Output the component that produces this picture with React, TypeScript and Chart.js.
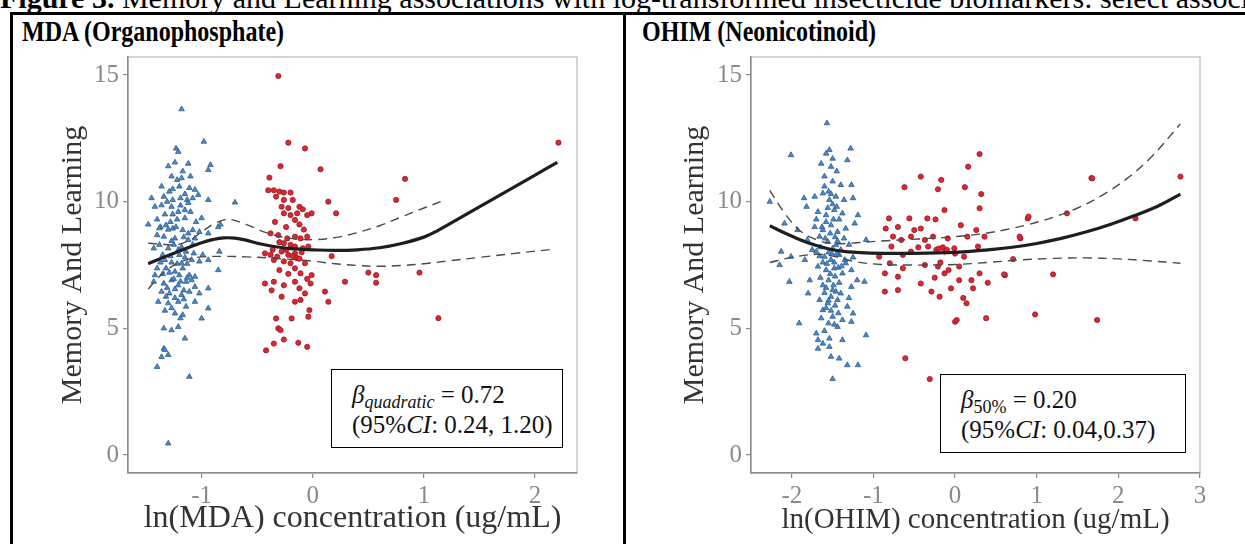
import React, { useEffect, useRef } from "react";
import { Chart, registerables } from "chart.js";
Chart.register(...registerables);

const FONT = "'Liberation Serif', 'Times New Roman', serif";

// ---------- Panel 1: MDA ----------
const mdaXTicks = [-1, 0, 1, 2];
const mdaYTicks = [0, 5, 10, 15];
const mdaLow: number[][] = [
  [-1.18,13.65],[-0.98,12.37],[-1.21,11.97],[-1.12,11.5],[-0.92,11.45],[-0.94,11.25],[-1.27,11.0],[-1.22,10.86],
  [-1.18,10.93],[-1.11,10.54],[-1.06,10.47],[-1.03,10.27],[-1.45,10.14],[-1.34,10.2],[-1.26,10.07],[-1.19,10.14],
  [-1.13,10.07],[-1.08,10.14],[-0.94,10.07],[-0.70,9.97],[-1.42,9.8],[-1.36,9.86],[-1.27,9.8],[-1.21,9.6],
  [-1.15,9.67],[-1.48,9.1],[-1.37,9.0],[-1.32,9.07],[-1.26,8.94],[-1.17,8.88],[-1.08,8.88],[-1.02,8.81],
  [-0.94,8.75],[-0.85,9.0],[-0.83,9.1],[-1.40,8.68],[-1.34,8.62],[-1.24,8.55],[-1.12,8.49],[-1.06,8.55],
  [-1.43,8.16],[-1.30,8.16],[-1.21,8.1],[-1.14,8.03],[-1.07,7.96],[-0.99,7.9],[-0.84,8.03],[-1.37,7.6],
  [-1.27,7.6],[-1.18,7.57],[-1.09,7.7],[-1.02,7.64],[-0.94,7.7],[-0.85,7.3],[-1.40,7.37],[-1.32,7.37],
  [-1.24,7.24],[-1.17,7.37],[-1.11,7.1],[-1.06,7.04],[-1.43,6.84],[-1.34,6.77],[-1.27,6.9],[-1.21,6.7],
  [-1.14,6.84],[-1.06,6.64],[-1.36,6.45],[-1.29,6.38],[-1.18,6.32],[-1.11,6.45],[-1.02,6.38],[-0.94,6.58],
  [-1.39,6.05],[-1.30,5.99],[-1.21,6.05],[-1.14,5.86],[-1.06,6.05],[-0.94,5.79],[-1.24,5.59],[-1.17,5.53],
  [-1.00,5.39],[-1.34,5.0],[-1.27,4.93],[-1.21,5.06],[-1.15,4.6],[-1.34,4.2],[-1.36,3.87],[-1.40,3.48],
  [-1.33,4.15],[-1.30,3.95],[-1.11,3.09],[-1.30,0.46],
  [-1.40,9.3],[-1.33,9.5],[-1.28,9.2],[-1.22,9.3],[-1.15,9.35],[-1.10,9.6],[-1.05,9.2],[-1.38,8.3],
  [-1.30,8.9],[-1.25,8.3],[-1.18,8.2],[-1.12,8.75],[-1.08,8.3],[-1.35,7.9],[-1.28,7.85],[-1.20,7.9],
  [-1.15,7.8],[-1.42,7.1],[-1.35,7.15],[-1.25,6.95],[-1.20,7.1],[-1.13,7.0],[-1.31,6.6],[-1.24,6.55],
  [-1.16,6.5],[-1.09,6.9],[-1.33,5.7],[-1.27,5.8],[-1.19,5.4],[-1.26,10.5],[-1.20,10.6],[-1.15,10.3],
  [-1.30,11.4],[-1.24,11.55],[-1.17,11.2],[-1.23,12.1],[-1.29,10.4],[-1.36,10.6],[-1.10,11.0],[-1.00,9.35],
  [-1.38,8.95],[-1.23,9.0],[-1.16,8.6],[-1.27,8.45],[-1.33,7.7],[-1.22,7.55],[-1.13,7.55],[-1.29,7.2],
  [-1.19,6.85],[-1.24,6.2],[-1.32,6.25],[-1.16,6.15],[-1.26,9.5],[-1.19,9.85],[-1.31,10.0],[-1.12,9.95]
];
const mdaHigh: number[][] = [
  [-0.31,14.96],[2.21,12.33],[-0.22,12.33],[-0.07,12.1],[0.07,11.28],[0.83,10.9],[0.75,10.07],[-0.29,11.4],
  [-0.39,10.95],[0.14,10.0],[0.21,9.54],[0.17,7.85],[0.29,6.84],[0.50,7.2],[0.57,7.1],[0.57,6.8],
  [0.96,7.2],[1.13,5.4],
  [-0.40,10.45],[-0.35,10.45],[-0.30,10.4],[-0.26,10.36],[-0.20,10.36],[-0.33,10.2],[-0.26,10.07],[-0.18,10.07],
  [-0.12,9.8],[-0.28,9.8],[-0.22,9.75],[-0.09,9.7],[-0.26,9.54],[-0.20,9.47],[-0.14,9.54],[-0.05,9.47],
  [-0.01,9.54],[-0.16,9.28],[-0.12,9.1],[-0.38,8.75],[-0.31,8.68],[-0.23,8.55],[-0.16,8.62],[-0.11,8.55],
  [-0.05,8.62],[-0.26,8.36],[-0.20,8.3],[-0.16,8.23],[-0.09,8.16],[-0.04,8.23],[-0.43,7.96],[-0.38,7.9],
  [-0.32,7.83],[-0.28,8.03],[-0.22,7.9],[-0.16,7.96],[-0.35,7.7],[-0.26,7.64],[-0.20,7.57],[-0.14,7.77],
  [-0.07,7.57],[-0.30,7.3],[-0.16,7.37],[-0.11,7.17],[-0.01,7.1],[-0.43,6.77],[-0.35,6.84],[-0.26,6.7],
  [-0.16,6.84],[-0.12,6.58],[-0.02,6.77],[-0.07,6.38],[-0.28,6.25],[-0.16,6.05],[-0.11,6.12],[0.11,6.45],
  [0.14,6.05],[-0.03,5.72],[-0.04,5.46],[-0.33,5.39],[-0.19,5.39],[-0.31,5.0],[-0.29,4.93],[-0.26,4.56],
  [-0.35,4.4],[-0.42,4.13],[-0.13,4.43],[-0.05,4.27],[-0.24,8.1],[-0.18,7.85],[-0.3,8.4],[-0.1,8.0],
  [-0.34,9.2],[-0.24,9.0],[-0.08,8.9],[-0.36,8.1],[-0.12,7.75],[-0.22,7.15],[-0.05,6.95],[-0.37,6.5]
];
const mdaFitX = [-1.48,-1.4,-1.3,-1.2,-1.1,-1.0,-0.9,-0.8,-0.7,-0.6,-0.5,-0.4,-0.3,-0.2,-0.1,0,0.2,0.4,0.6,0.8,1.0,1.12,1.4,1.7,2.0,2.2];
const mdaFitY = [7.55,7.7,7.88,8.05,8.22,8.38,8.5,8.57,8.56,8.48,8.36,8.27,8.2,8.15,8.12,8.1,8.08,8.1,8.18,8.35,8.6,8.85,9.55,10.3,11.05,11.55];
const mdaUpX = [-1.48,-1.35,-1.22,-1.1,-1.0,-0.9,-0.8,-0.74,-0.6,-0.4,-0.2,0,0.2,0.4,0.6,0.8,1.0,1.15];
const mdaUpY = [8.36,8.32,8.3,8.5,8.8,9.1,9.28,9.3,9.1,8.75,8.55,8.5,8.58,8.78,9.05,9.4,9.75,10.0];
const mdaLoX = [-1.48,-1.4,-1.3,-1.2,-1.1,-1.0,-0.8,-0.6,-0.4,-0.2,0,0.2,0.4,0.6,0.8,1.0,1.2,1.5,1.8,2.16];
const mdaLoY = [6.55,6.95,7.35,7.6,7.75,7.82,7.84,7.82,7.78,7.72,7.65,7.55,7.48,7.45,7.48,7.55,7.65,7.8,7.95,8.12];

// ---------- Panel 2: OHIM ----------
const ohimXTicks = [-2, -1, 0, 1, 2, 3];
const ohimYTicks = [0, 5, 10, 15];
const ohimLow: number[][] = [
  [-1.57,13.1],[-2.01,11.84],[-1.54,12.04],[-1.28,12.1],[-1.64,11.5],[-1.52,11.38],[-1.32,11.64],[-1.60,11.0],
  [-1.50,10.8],[-1.40,10.66],[-1.27,10.66],[-1.85,10.14],[-1.72,10.2],[-1.62,10.33],[-1.54,10.07],[-1.46,10.2],
  [-1.36,10.07],[-1.25,10.14],[-2.27,10.0],[-2.09,9.14],[-1.82,9.8],[-1.68,9.6],[-1.58,9.47],[-1.48,9.67],
  [-1.38,9.54],[-1.19,9.47],[-1.72,9.0],[-1.62,8.88],[-1.52,9.07],[-1.44,8.81],[-1.34,8.94],[-1.23,9.14],
  [-1.93,8.88],[-1.81,8.49],[-1.66,8.62],[-1.56,8.42],[-1.46,8.29],[-1.36,8.55],[-1.09,8.49],[-2.13,8.03],
  [-2.01,7.83],[-1.70,8.03],[-1.60,7.83],[-1.52,7.7],[-1.42,7.9],[-1.34,7.57],[-1.84,7.7],[-2.15,7.5],
  [-1.68,7.44],[-1.58,7.3],[-1.48,7.37],[-1.38,7.17],[-1.27,7.3],[-2.03,6.84],[-1.78,6.9],[-1.62,6.7],
  [-1.50,6.51],[-1.40,6.38],[-1.27,6.64],[-1.11,6.84],[-1.80,6.38],[-1.66,6.12],[-1.56,5.99],[-1.44,6.12],
  [-1.32,5.86],[-1.62,5.72],[-1.50,5.46],[-1.38,5.33],[-1.25,5.59],[-1.91,5.2],[-1.44,5.06],[-1.27,5.26],
  [-1.09,4.73],[-1.70,4.8],[-1.68,4.54],[-1.54,4.6],[-1.38,4.54],[-1.68,4.2],[-1.54,4.27],[-1.52,3.88],
  [-1.42,3.81],[-1.32,3.55],[-1.19,3.55],[-1.50,3.0],
  [-1.60,10.6],[-1.55,10.4],[-1.50,9.9],[-1.45,9.8],[-1.58,9.2],[-1.53,8.75],[-1.47,8.6],[-1.42,9.3],
  [-1.65,8.2],[-1.55,8.0],[-1.50,8.15],[-1.45,7.95],[-1.40,8.1],[-1.62,7.6],[-1.57,7.55],[-1.48,7.6],
  [-1.43,7.4],[-1.35,7.7],[-1.65,7.0],[-1.55,6.9],[-1.47,7.05],[-1.42,6.8],[-1.60,6.4],[-1.52,6.25],
  [-1.46,6.45],[-1.58,5.8],[-1.52,5.7],[-1.47,5.9],[-1.55,5.2],[-1.60,4.9],[-1.50,11.7],[-1.58,11.9],
  [-1.45,11.2],[-1.70,9.3],[-1.75,8.1],[-1.30,8.3],[-1.25,7.8],[-1.20,6.9],[-1.30,6.2],[-1.62,4.4],
  [-1.56,9.75],[-1.49,9.3],[-1.63,9.0],[-1.44,8.45],[-1.59,8.55],[-1.51,7.95],[-1.66,7.85],[-1.39,7.45],
  [-1.53,7.15],[-1.58,6.6],[-1.49,6.7],[-1.55,6.1],[-1.43,5.6],[-1.48,5.15],[-1.64,5.4],[-1.52,10.3]
];
const ohimHigh: number[][] = [
  [0.30,11.88],[0.16,11.38],[-0.42,10.99],[-0.17,10.86],[1.67,10.93],[-0.62,10.57],[-0.21,10.49],[0.12,10.57],
  [0.32,10.3],[-0.13,9.67],[0.30,9.74],[-0.81,9.34],[-0.56,9.34],[-0.34,9.34],[-0.24,9.3],[0.89,9.34],
  [1.37,9.54],[1.68,10.92],[2.76,10.99],[2.21,9.34],[0.90,9.41],[0.80,8.55],[0.71,7.73],[1.20,7.13],
  [0.61,7.1],[0.98,5.55],[1.74,5.33],[0.38,5.4],[0.00,5.26],[0.02,5.33],[-0.61,3.82],[-0.31,3.0],
  [-0.85,8.94],[-0.70,9.0],[-0.50,8.88],[-0.42,8.94],[-0.76,8.62],[-0.66,8.49],[-0.54,8.62],[-0.37,8.49],
  [-0.27,8.62],[-0.09,8.55],[0.07,9.07],[0.26,8.88],[0.15,8.62],[0.36,8.62],[0.79,8.62],[-0.78,8.23],
  [-0.64,7.9],[-0.54,8.03],[-0.33,8.23],[-0.23,8.1],[-0.13,8.03],[-0.01,8.16],[0.11,7.83],[0.28,8.23],
  [-0.93,7.83],[-0.80,7.57],[-0.64,7.37],[-0.37,7.5],[-0.21,7.44],[-0.13,7.17],[0.05,7.44],[0.20,6.9],
  [0.30,7.17],[0.40,6.8],[0.60,7.13],[-0.86,7.17],[-0.70,7.04],[-0.86,6.45],[-0.70,6.51],[-0.42,6.77],
  [-0.29,6.45],[-0.19,6.25],[-0.05,6.58],[0.22,6.58],[0.14,5.99],[-0.20,8.15],[-0.15,8.2],[-0.10,8.1],
  [0.00,7.95],[-0.18,7.6],[-0.08,7.3],[0.05,6.9],[-0.45,8.2],[-0.25,7.0],[0.10,6.2]
];
const ohimFitX = [-2.27,-2.1,-1.9,-1.7,-1.5,-1.3,-1.1,-0.8,-0.5,-0.2,0.1,0.4,0.7,1.0,1.3,1.6,1.9,2.2,2.5,2.76];
const ohimFitY = [9.05,8.78,8.5,8.27,8.1,8.02,7.98,7.96,7.96,7.98,8.02,8.1,8.2,8.35,8.55,8.8,9.1,9.45,9.85,10.3];
const ohimUpX = [-2.27,-2.1,-1.9,-1.7,-1.5,-1.2,-0.9,-0.6,-0.3,0,0.3,0.6,0.9,1.2,1.5,1.8,2.1,2.4,2.76];
const ohimUpY = [10.45,9.6,8.85,8.5,8.35,8.38,8.45,8.5,8.55,8.62,8.72,8.88,9.1,9.38,9.75,10.25,10.9,11.75,13.07];
const ohimLoX = [-2.27,-2.0,-1.7,-1.5,-1.2,-0.9,-0.6,-0.3,0,0.4,0.8,1.2,1.6,2.0,2.4,2.76];
const ohimLoY = [7.6,7.8,7.92,7.85,7.62,7.52,7.5,7.5,7.52,7.6,7.7,7.76,7.78,7.74,7.66,7.57];

const zipXY = (xs: number[], ys: number[]) => xs.map((x, i) => ({ x, y: ys[i] }));
const pts = (arr: number[][]) => arr.map(([x, y]) => ({ x, y }));

const framePlugin = {
  id: "frame",
  beforeDraw(chart: any) {
    const { ctx, chartArea: a } = chart;
    ctx.save();
    ctx.fillStyle = "#ffffff";
    ctx.fillRect(a.left, a.top, a.right - a.left, a.bottom - a.top);
    ctx.strokeStyle = "#c8c8c8";
    ctx.lineWidth = 1.5;
    ctx.strokeRect(a.left, a.top, a.right - a.left, a.bottom - a.top);
    ctx.restore();
  },
};

type PanelProps = {
  low: number[][]; high: number[][];
  fitX: number[]; fitY: number[]; upX: number[]; upY: number[]; loX: number[]; loY: number[];
  xMin: number; xMax: number; xTicks: number[]; yTicks: number[];
  xTitle: string; xTitleSize: number; yAxisWidth: number; rightPad: number;
  style: React.CSSProperties;
};

function Panel(p: PanelProps) {
  const ref = useRef<HTMLCanvasElement | null>(null);
  useEffect(() => {
    if (!ref.current) return;
    const tickFont = { family: FONT, size: 25 };
    const chart = new Chart(ref.current, {
      type: "scatter",
      data: {
        datasets: [
          { data: zipXY(p.fitX, p.fitY), showLine: true, borderColor: "#1e1e1e", borderWidth: 3.2, pointRadius: 0, tension: 0.4, order: 0 } as any,
          { data: zipXY(p.upX, p.upY), showLine: true, borderColor: "#4a4a4a", borderWidth: 1.4, borderDash: [9, 6], pointRadius: 0, tension: 0.4, order: 0 } as any,
          { data: zipXY(p.loX, p.loY), showLine: true, borderColor: "#4a4a4a", borderWidth: 1.4, borderDash: [9, 6], pointRadius: 0, tension: 0.4, order: 0 } as any,
          { data: pts(p.low), pointStyle: "triangle", pointRadius: 3.2, backgroundColor: "#4a8ad0", borderColor: "#2d5a8a", borderWidth: 0.8, order: 1 },
          { data: pts(p.high), pointStyle: "circle", pointRadius: 2.6, backgroundColor: "#e0262f", borderColor: "#8e1a26", borderWidth: 0.8, order: 1 },
        ],
      },
      options: {
        responsive: false,
        animation: false,
        devicePixelRatio: 1,
        layout: { padding: { left: 0, top: 7, right: p.rightPad, bottom: 0 } },
        plugins: { legend: { display: false }, tooltip: { enabled: false } },
        scales: {
          x: {
            type: "linear", min: p.xMin, max: p.xMax,
            afterBuildTicks: (s: any) => { s.ticks = p.xTicks.map((v) => ({ value: v })); },
            afterFit: (s: any) => { s.height = 71; s.paddingLeft = 0; s.paddingRight = 0; },
            grid: { display: true, drawOnChartArea: false, drawTicks: true, tickLength: 5, color: "#8c8c8c", lineWidth: 1.2 },
            border: { display: true, color: "#8c8c8c", width: 1.5 },
            ticks: { color: "#8a8a8a", font: tickFont, padding: 3, callback: (v: any) => String(v) },
            title: { display: true, text: p.xTitle, color: "#333", font: { family: FONT, size: p.xTitleSize }, padding: { top: 0, bottom: 6 } },
          },
          y: {
            type: "linear", min: -0.71, max: 15.71,
            afterBuildTicks: (s: any) => { s.ticks = p.yTicks.map((v) => ({ value: v })); },
            afterFit: (s: any) => { s.width = p.yAxisWidth; s.paddingTop = 0; s.paddingBottom = 0; },
            grid: { display: true, drawOnChartArea: false, drawTicks: true, tickLength: 5, color: "#8c8c8c", lineWidth: 1.2 },
            border: { display: true, color: "#8c8c8c", width: 1.5 },
            ticks: { color: "#8a8a8a", font: tickFont, padding: 4, callback: (v: any) => String(v) },
            title: { display: true, text: "Memory And Learning", color: "#333", font: { family: FONT, size: 30 }, padding: { top: 41, bottom: 0 } },
          },
        },
      },
      plugins: [framePlugin],
    } as any);
    return () => chart.destroy();
  }, []);
  return <canvas ref={ref} width={600} height={494} style={{ position: "absolute", ...p.style }} />;
}

const boxStyle: React.CSSProperties = {
  position: "absolute", border: "1.5px solid #000", background: "#fff", boxSizing: "border-box",
  fontFamily: FONT, fontSize: 25, lineHeight: "30px", color: "#111", whiteSpace: "nowrap",
};
const subStyle: React.CSSProperties = { fontSize: 18, verticalAlign: "-5px", lineHeight: 0 };
const panelTitle: React.CSSProperties = {
  position: "absolute", top: 16, fontFamily: FONT, fontWeight: "bold", fontSize: 24, lineHeight: "24px",
  whiteSpace: "nowrap", transform: "scaleY(1.25)", transformOrigin: "0 0", color: "#000",
};

export default function App() {
  return (
    <div style={{ position: "fixed", left: 0, top: 0, width: 1245, height: 544, overflow: "hidden", background: "#fff" }}>
      <div style={{ position: "absolute", left: 0, top: -17, fontFamily: FONT, fontSize: 30, lineHeight: "30px", whiteSpace: "nowrap", color: "#000" }}>
        <b>Figure 3.</b> Memory and Learning associations with log-transformed insecticide biomarkers: select associations
      </div>
      <div style={{ position: "absolute", left: 10, top: 12, width: 1235, height: 3, background: "#000" }} />
      <div style={{ position: "absolute", left: 10, top: 12, width: 3, height: 532, background: "#000" }} />
      <div style={{ position: "absolute", left: 623, top: 12, width: 2.5, height: 532, background: "#000" }} />
      <div style={{ ...panelTitle, left: 22 }}>MDA (Organophosphate)</div>
      <div style={{ ...panelTitle, left: 642 }}>OHIM (Neonicotinoid)</div>
      <Panel low={mdaLow} high={mdaHigh} fitX={mdaFitX} fitY={mdaFitY} upX={mdaUpX} upY={mdaUpY} loX={mdaLoX} loY={mdaLoY}
        xMin={-1.662} xMax={2.377} xTicks={mdaXTicks} yTicks={mdaYTicks} xTitle="ln(MDA) concentration (ug/mL)" xTitleSize={32}
        yAxisWidth={114} rightPad={37} style={{ left: 14, top: 50 }} />
      <Panel low={ohimLow} high={ohimHigh} fitX={ohimFitX} fitY={ohimFitY} upX={ohimUpX} upY={ohimUpY} loX={ohimLoX} loY={ohimLoY}
        xMin={-2.5} xMax={3.0} xTicks={ohimXTicks} yTicks={ohimYTicks} xTitle="ln(OHIM) concentration (ug/mL)" xTitleSize={29}
        yAxisWidth={115} rightPad={36} style={{ left: 636, top: 50 }} />
      <div style={{ ...boxStyle, left: 331, top: 369, width: 232, height: 79, padding: "10px 0 0 20px" }}>
        <i>β</i><sub style={subStyle}><i>quadratic</i></sub> = 0.72<br />(95%<i>CI</i>: 0.24, 1.20)
      </div>
      <div style={{ ...boxStyle, left: 940, top: 374, width: 246, height: 79, padding: "10px 0 0 20px" }}>
        <i>β</i><sub style={subStyle}>50%</sub> = 0.20<br />(95%<i>CI</i>: 0.04,0.37)
      </div>
    </div>
  );
}
